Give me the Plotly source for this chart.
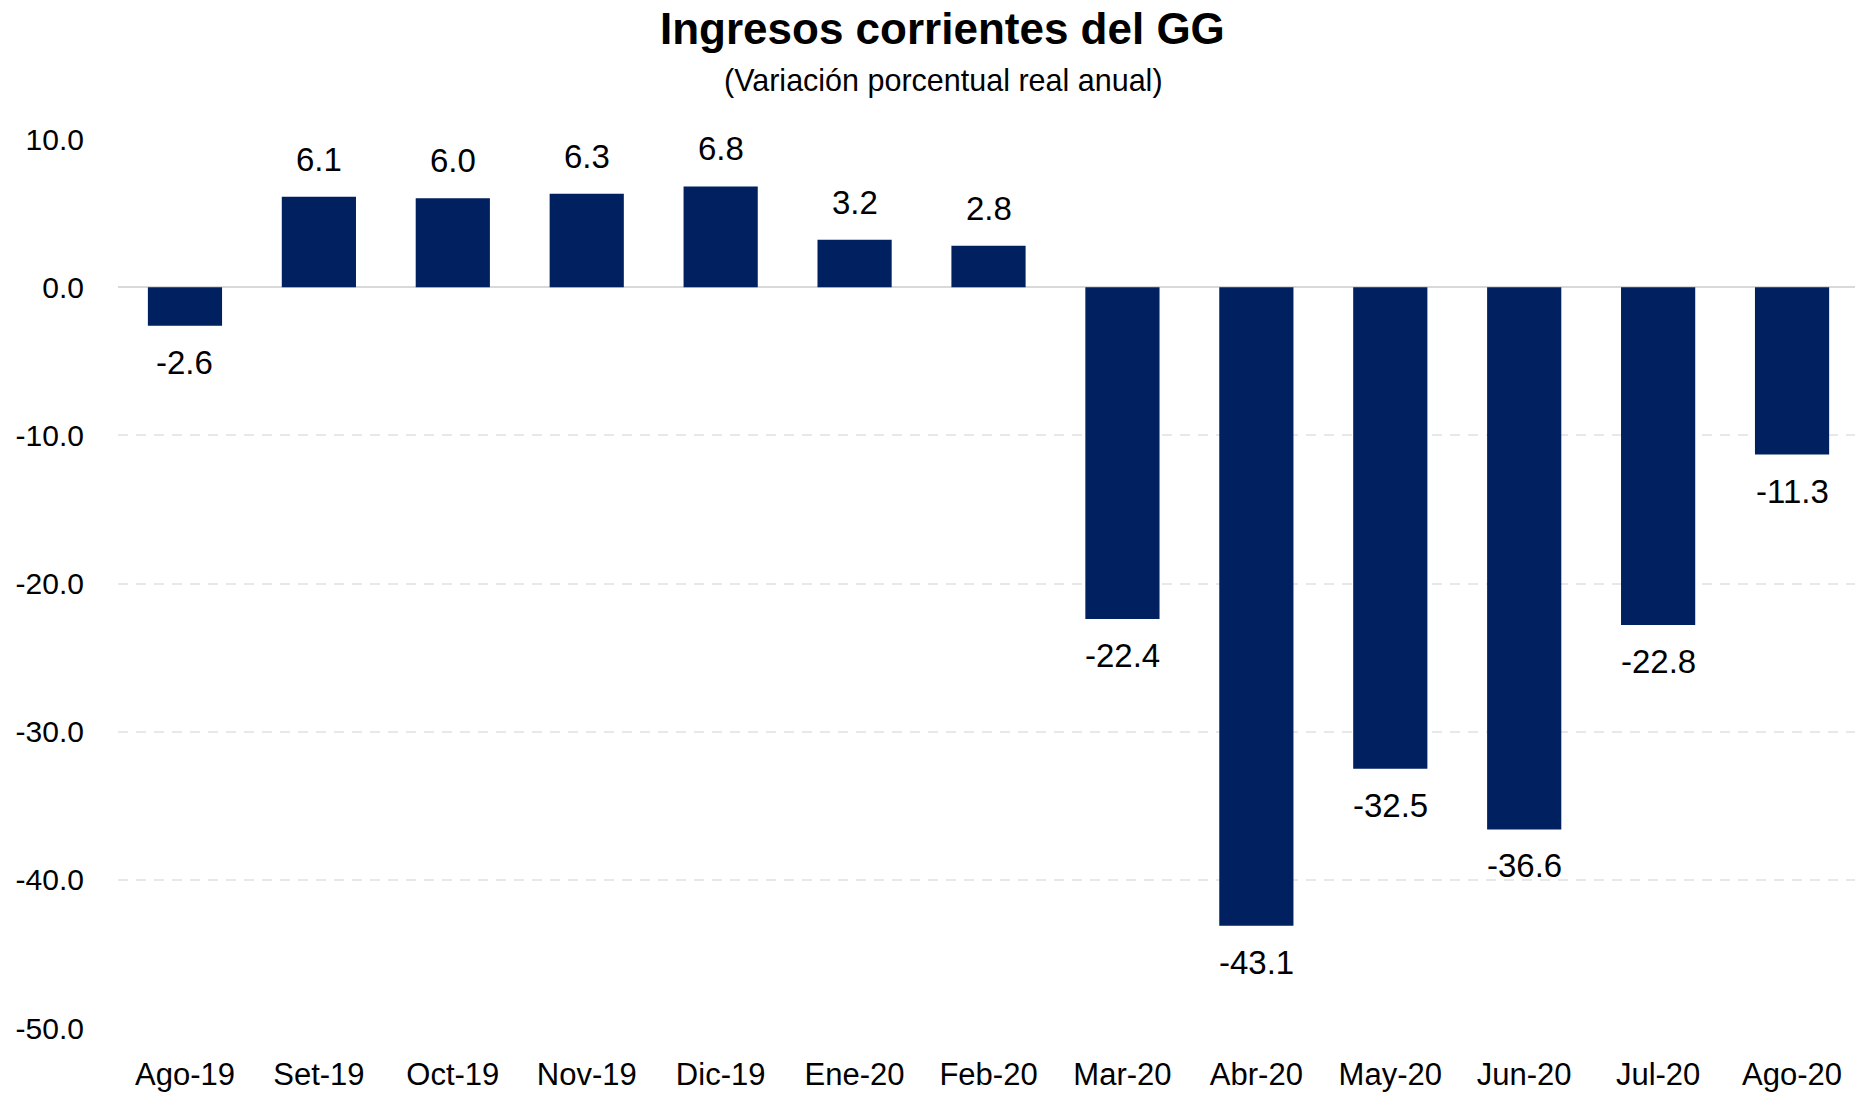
import plotly.graph_objects as go

# datos del grafico
meses = ["Ago-19", "Set-19", "Oct-19", "Nov-19", "Dic-19", "Ene-20", "Feb-20",
         "Mar-20", "Abr-20", "May-20", "Jun-20", "Jul-20", "Ago-20"]
variacion = [-2.6, 6.1, 6.0, 6.3, 6.8, 3.2, 2.8, -22.4, -43.1, -32.5, -36.6, -22.8, -11.3]
y_ticks = [10, 0, -10, -20, -30, -40, -50]

FONT = "Liberation Sans Narrow, Arial Narrow, Liberation Sans, Arial"
AZUL = "#002060"

fig = go.Figure()
fig.add_trace(go.Bar(x=meses, y=variacion, marker=dict(color=AZUL, line=dict(width=0)),
                     hoverinfo="x+y"))

# etiquetas de datos: arriba si positivo, abajo si negativo
for m, v in zip(meses, variacion):
    fig.add_annotation(x=m, y=v, text=f"{v:.1f}", showarrow=False,
                       yanchor="bottom" if v >= 0 else "top",
                       yshift=17 if v >= 0 else -16,
                       font=dict(family=FONT, size=33, color="black"))

fig.add_annotation(text="<b>Ingresos corrientes del GG</b>", xref="paper", yref="paper",
                   x=(942 - 118) / 1737, y=(1028 - 29) / 889, showarrow=False,
                   xanchor="center", yanchor="middle",
                   font=dict(family=FONT, size=44, color="black"))
fig.add_annotation(text="(Variación porcentual real anual)", xref="paper", yref="paper",
                   x=(943 - 118) / 1737, y=(1028 - 80) / 889, showarrow=False,
                   xanchor="center", yanchor="middle",
                   font=dict(family=FONT, size=30.5, color="black"))

fig.update_layout(
    width=1855, height=1094,
    margin=dict(l=118, r=0, t=139, b=66),
    paper_bgcolor="white", plot_bgcolor="white",
    bargap=0.446,
    showlegend=False,
    font=dict(family=FONT, size=32, color="black"),
)
fig.update_xaxes(range=[-0.5, 12.47], showgrid=False, showline=False, ticks="",
                 tickfont=dict(family=FONT, size=31, color="black"),
                 ticklabelstandoff=25)
fig.update_yaxes(range=[-50, 10], tickvals=y_ticks,
                 ticktext=[f"{t:.1f}" for t in y_ticks],
                 showgrid=True, gridcolor="#E8E8E8", gridwidth=2, griddash="10px,8px",
                 zeroline=True, zerolinecolor="#D9D9D9", zerolinewidth=2,
                 showline=False, ticks="",
                 tickfont=dict(family=FONT, size=30, color="black"),
                 ticklabelstandoff=33)

fig.write_html("out.html", config={"displayModeBar": False},
               post_script="document.body.style.margin='0';")
